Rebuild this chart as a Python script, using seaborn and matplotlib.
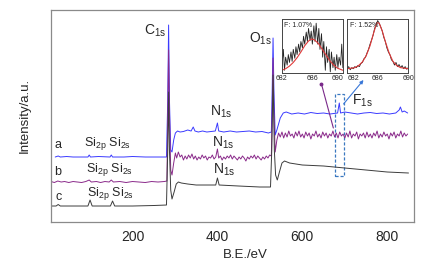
import matplotlib
matplotlib.use("Agg")
import matplotlib.pyplot as plt
import seaborn as sns

# XPS survey spectra, binding energy (eV) vs intensity (a.u.)
# curve a (blue)
be_a = [18, 25, 30, 45, 60, 80, 95, 98, 101, 120, 147, 150, 153, 180, 200, 230, 260, 280,
        283, 285, 287, 290, 293, 297, 301, 306, 312, 320, 330, 338, 343, 347, 355, 365,
        375, 385, 395, 400, 403, 415, 430, 445, 460, 475, 490, 505, 520, 527, 529, 531,
        533, 536, 540, 548, 555, 562, 575, 590, 605, 620, 635, 650, 665, 683, 687, 690,
        700, 715, 730, 745, 760, 775, 790, 805, 820, 828, 831, 835, 840, 848]
int_a = [65, 66, 65, 65.5, 65, 65, 65, 67, 65, 65.5, 65, 67, 65, 65, 65.5, 65, 65, 65,
         122, 197, 122, 72, 70, 82, 89, 91, 90, 90.5, 92, 91, 95, 91, 90, 91,
         90, 90.5, 91, 99, 91, 90, 91, 90, 90.5, 91, 90, 90.5, 89, 90, 132, 184,
         132, 87, 92, 104, 109, 110, 108, 109, 108, 109.5, 108.5, 109, 108, 109, 119, 109,
         110, 109, 108, 109, 109.5, 108.5, 109, 108, 109, 112, 115, 110, 111, 109]

# curve b (purple)
be_b = [0, 8, 16, 24, 32, 40, 50, 60, 70, 80, 90, 98, 103, 115, 125, 135, 145, 150, 155,
        170, 185, 200, 215, 230, 245, 260, 275, 281, 283, 285, 287, 290, 293, 297, 301,
        304, 308, 312, 316, 320, 324, 328, 332, 336, 340, 344, 348, 352, 356, 360, 364,
        368, 372, 376, 380, 384, 388, 392, 396, 400, 403, 407, 411, 415, 419, 423, 427,
        431, 435, 439, 443, 447, 451, 455, 459, 463, 467, 471, 475, 479, 483, 487, 491,
        495, 499, 503, 507, 511, 515, 519, 523, 527, 529, 531, 533, 536, 540, 544, 548,
        552, 556, 560, 564, 568, 572, 576, 580, 584, 588, 592, 596, 600, 604, 608, 612,
        616, 620, 624, 628, 632, 636, 640, 644, 648, 652, 656, 660, 664, 668, 672, 676,
        680, 684, 688, 692, 696, 700, 704, 708, 712, 716, 720, 724, 728, 732, 736, 740,
        744, 748, 752, 756, 760, 764, 768, 772, 776, 780, 784, 788, 792, 796, 800, 804,
        808, 812, 816, 820, 824, 828, 832, 836, 840, 844, 848]
int_b = [40, 40.5, 39.5, 41, 40, 40.5, 39.5, 40.5, 40, 39.5, 40.5, 42, 40, 40.5, 39.5, 40.5, 40, 42, 40,
         40.5, 39.5, 40.5, 40, 39.5, 40.5, 40, 40.5, 41, 110, 172, 110, 52, 47, 59, 69,
         64, 70, 65, 67, 62, 66, 63, 67, 64, 68, 63, 66, 62, 65, 63, 67,
         64, 66, 62, 65, 64, 67, 63, 65, 73, 64, 66, 62, 65, 63, 66, 64,
         67, 63, 66, 64, 62, 65, 63, 66, 64, 61, 65, 63, 66, 64, 67, 63,
         66, 64, 62, 65, 63, 66, 64, 67, 66, 110, 164, 110, 70, 82, 89, 85,
         90, 84, 89, 85, 91, 86, 88, 84, 90, 86, 91, 85, 88, 84, 90, 86,
         89, 83, 88, 86, 91, 85, 88, 84, 90, 86, 89, 84, 88, 86, 91, 85,
         89, 84, 90, 86, 88, 84, 89, 85, 91, 84, 88, 86, 90, 83, 88, 86,
         89, 84, 90, 85, 88, 84, 89, 86, 91, 84, 88, 85, 90, 86, 88, 83,
         89, 86, 90, 84, 88, 86, 91, 85, 89, 86, 88]

# curve c (dark grey)
be_c = [8, 20, 25, 30, 60, 95, 100, 105, 148, 153, 158, 200, 250, 280, 283, 285, 287, 290,
        293, 298, 303, 308, 315, 330, 350, 380, 396, 400, 404, 450, 500, 525, 528, 531,
        534, 537, 541, 546, 552, 558, 570, 600, 650, 700, 750, 800, 850]
int_c = [16, 16, 17.5, 16, 16, 16, 22, 16, 16, 21, 16, 16, 16.5, 17, 72, 130, 72, 32,
         23, 30, 38, 40, 39, 38, 37, 37, 37, 44, 37, 36, 35, 35, 72, 147,
         72, 47, 42, 50, 59, 61, 59, 57, 56, 54, 52, 50, 49]

# F1s high-resolution insets (normalised)
hr1_be = [682.0, 682.2, 682.35, 682.5, 682.7, 682.85, 683.0, 683.2, 683.35, 683.5, 683.7,
          683.85, 684.0, 684.2, 684.35, 684.5, 684.7, 684.85, 685.0, 685.2, 685.35, 685.5,
          685.7, 685.85, 686.0, 686.2, 686.35, 686.5, 686.7, 686.85, 687.0, 687.2, 687.35,
          687.5, 687.7, 687.85, 688.0, 688.2, 688.35, 688.5, 688.7, 688.85, 689.0, 689.2,
          689.35, 689.5, 689.7, 689.85, 690.0]
hr1_int = [0.10, 0.45, 0.05, 0.30, 0.15, 0.35, 0.20, 0.40, 0.22, 0.45, 0.28,
           0.50, 0.35, 0.55, 0.40, 0.60, 0.48, 0.70, 0.55, 0.78, 0.60, 0.85,
           0.62, 0.80, 0.55, 0.90, 0.60, 0.95, 0.55, 0.85, 0.45, 0.75, 0.30,
           0.60, 0.05, 0.50, 0.20, 0.45, 0.02, 0.40, 0.10, 0.30, 0.05, 0.35,
           0.10, 0.30, 0.15, 0.55, 0.10]
fit1_be = [682, 682.5, 683, 683.5, 684, 684.5, 685, 685.5, 685.9, 686.3, 686.8, 687.3,
           687.8, 688.3, 688.8, 689.3, 690]
fit1_int = [0.05, 0.08, 0.13, 0.20, 0.29, 0.40, 0.52, 0.61, 0.65, 0.63, 0.56, 0.45,
            0.34, 0.23, 0.15, 0.09, 0.05]

hr2_be = [682.0, 682.2, 682.4, 682.6, 682.8, 683.0, 683.2, 683.4, 683.6, 683.8, 684.0,
          684.2, 684.4, 684.6, 684.8, 685.0, 685.2, 685.4, 685.6, 685.8, 686.0, 686.2,
          686.4, 686.6, 686.8, 687.0, 687.2, 687.4, 687.6, 687.8, 688.0, 688.2, 688.4,
          688.6, 688.8, 689.0, 689.2, 689.4, 689.6, 689.8, 690.0]
hr2_int = [0.08, 0.12, 0.06, 0.10, 0.08, 0.12, 0.10, 0.14, 0.12, 0.18, 0.20,
           0.27, 0.30, 0.38, 0.45, 0.55, 0.63, 0.72, 0.85, 0.92, 1.00, 0.95,
           0.88, 0.80, 0.68, 0.60, 0.48, 0.40, 0.35, 0.25, 0.22, 0.15, 0.20,
           0.12, 0.16, 0.10, 0.14, 0.08, 0.12, 0.07, 0.10]
fit2_be = [682, 683, 683.5, 684, 684.5, 685, 685.5, 685.9, 686.2, 686.6, 687, 687.5,
           688, 688.5, 689, 690]
fit2_int = [0.08, 0.10, 0.14, 0.21, 0.33, 0.52, 0.78, 0.96, 0.95, 0.80, 0.60, 0.38,
            0.22, 0.14, 0.10, 0.08]

sns.set_style("white")
plt.rcParams["font.family"] = ["Liberation Sans", "DejaVu Sans"]
plt.rcParams["mathtext.default"] = "regular"

fig = plt.figure(figsize=(4.27, 2.68), dpi=100)
ax = fig.add_axes([0.1194, 0.1716, 0.8502, 0.7911])

blue = "#3a3aff"
purple = "#8a2a8a"
grey = "#3c3c3c"
sns.lineplot(x=be_a, y=int_a, ax=ax, color=blue, lw=0.7, estimator=None, sort=False)
sns.lineplot(x=be_b, y=int_b, ax=ax, color=purple, lw=0.7, estimator=None, sort=False)
sns.lineplot(x=be_c, y=int_c, ax=ax, color=grey, lw=0.7, estimator=None, sort=False)

ax.set_xlim(8, 863)
ax.set_ylim(0, 212)
ax.set_yticks([])
ax.set_xticks([200, 400, 600, 800])
ax.set_xticks([100, 300, 500, 700], minor=True)
ax.tick_params(axis="x", which="both", direction="out", length=3, width=0.8,
               color="#777777", labelsize=10, pad=3)
for sp in ax.spines.values():
    sp.set_color("#8a8a8a")
    sp.set_linewidth(0.9)

ax.set_xlabel("B.E./eV", fontsize=9.5)
ax.xaxis.set_label_coords(0.534, -0.127)
ax.set_ylabel("Intensity/a.u.", fontsize=9.5)
ax.yaxis.set_label_coords(-0.055, 0.505)

# peak labels
fs = 10
ax.text(253, 191, "C$_{1s}$", fontsize=fs, ha="center", va="center")
ax.text(501, 183, "O$_{1s}$", fontsize=fs, ha="center", va="center")
ax.text(409, 110, "N$_{1s}$", fontsize=fs, ha="center", va="center")
ax.text(414, 79, "N$_{1s}$", fontsize=fs, ha="center", va="center")
ax.text(416, 52, "N$_{1s}$", fontsize=fs, ha="center", va="center")
ax.text(742, 121, "F$_{1s}$", fontsize=fs, ha="center", va="center")
ax.text(24, 77, "a", fontsize=9, ha="center", va="center")
ax.text(24, 50, "b", fontsize=9, ha="center", va="center")
ax.text(27, 25, "c", fontsize=9, ha="center", va="center")
ax.text(86, 79, "Si$_{2p}$ Si$_{2s}$", fontsize=9, ha="left", va="center")
ax.text(90, 53, "Si$_{2p}$ Si$_{2s}$", fontsize=9, ha="left", va="center")
ax.text(93, 29, "Si$_{2p}$ Si$_{2s}$", fontsize=9, ha="left", va="center")

# dashed box around F1s and connectors to insets
ax.add_patch(plt.Rectangle((676, 46), 21, 82, fill=False, ls=(0, (2.5, 1.5)),
                           lw=0.9, ec="#3a78c0"))
ax.annotate("", xy=(744, 142), xytext=(697, 118),
            arrowprops=dict(arrowstyle="-|>", color="#3a78d8", lw=0.8,
                            mutation_scale=5, shrinkA=0, shrinkB=0))
ax.plot([645, 673], [138, 94], color="#7a2a8a", lw=0.8)
ax.plot([645], [138], "o", color="#7a2a8a", ms=1.8)

# insets
for k, (left, be, it, fb, fi, lab) in enumerate([
    (0.660, hr1_be, hr1_int, fit1_be, fit1_int, "F: 1.07%"),
    (0.813, hr2_be, hr2_int, fit2_be, fit2_int, "F: 1.52%"),
]):
    ins = fig.add_axes([left, 0.728, 0.143, 0.201])
    sns.lineplot(x=be, y=it, ax=ins, color="#222222", lw=0.6, estimator=None, sort=False)
    sns.lineplot(x=fb, y=fi, ax=ins, color="#e03a3a", lw=0.8, estimator=None, sort=False)
    ins.set_xlim(682, 690)
    ins.set_ylim(0, 1.03)
    ins.set_yticks([])
    ins.set_xticks([682, 686, 690])
    ins.tick_params(axis="x", direction="in", length=2, width=0.6, labelsize=5, pad=1.5)
    labels = ins.get_xticklabels()
    if k == 0:
        labels[-1].set_horizontalalignment("right")
    else:
        labels[0].set_horizontalalignment("left")
    ins.text(0.04, 0.95, lab, transform=ins.transAxes, fontsize=5, ha="left", va="top")
    for sp in ins.spines.values():
        sp.set_color("#444444")
        sp.set_linewidth(0.7)

fig.savefig("out.png", dpi=100)
